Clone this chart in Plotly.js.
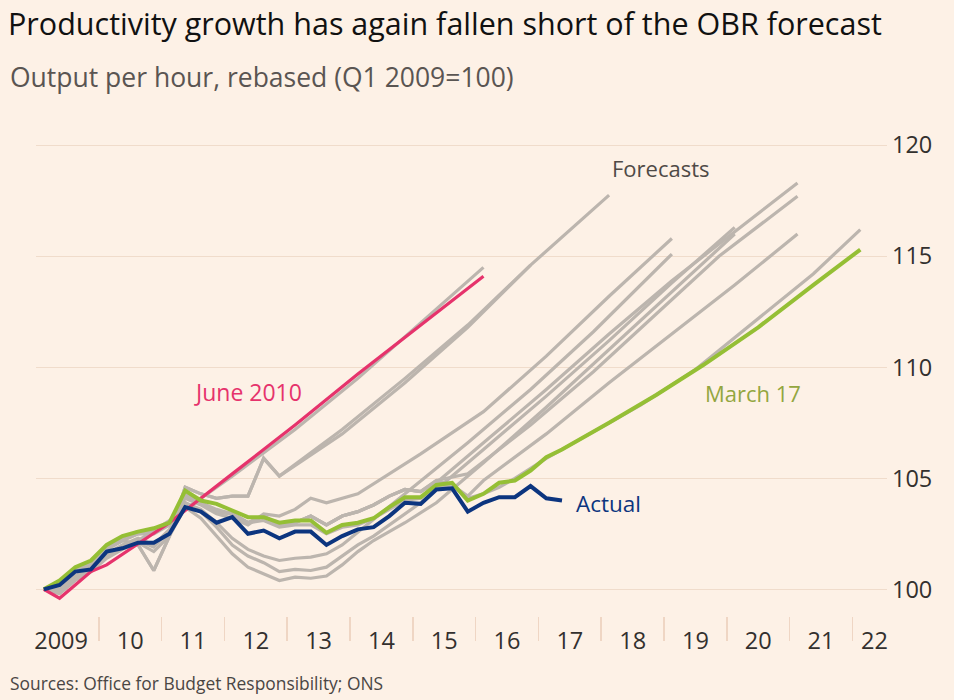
<!DOCTYPE html>
<html>
<head>
<meta charset="utf-8">
<script src="https://cdn.plot.ly/plotly-3.0.1.min.js"></script>
<style>
  html, body { margin: 0; padding: 0; background: #fdf1e6; }
  #chart { width: 954px; height: 700px; }
</style>
</head>
<body>
<div id="chart"></div>
<script>
// quarterly history vintages start at Q1 2009 (plotted mid-quarter)
const firstQuarter = 2009.125;

// ONS outturn, Q1 2009 .. Q2 2017
const actual = [100.0, 100.2, 100.8, 100.9, 101.7, 101.85, 102.1, 102.1,
  102.5, 103.7, 103.5, 103.0, 103.25, 102.5, 102.65, 102.3,
  102.6, 102.6, 102.0, 102.4, 102.7, 102.8, 103.3, 103.9,
  103.85, 104.5, 104.55, 103.5, 103.9, 104.15, 104.15, 104.65,
  104.1, 104.0];

// history as seen by each forecast
const histMar17 = [100.0, 100.4, 101.0, 101.3, 102.0, 102.4, 102.6, 102.75,
  103.0, 104.45, 104.0, 103.85, 103.55, 103.25, 103.25, 103.0,
  103.1, 103.1, 102.55, 102.9, 103.0, 103.2, 103.7, 104.15,
  104.15, 104.7, 104.8, 104.0, 104.3, 104.8, 104.9, 105.35];
const histNov16 = [100.0, 100.3, 100.9, 101.2, 101.9, 102.2, 102.5, 102.6,
  102.9, 104.3, 103.9, 103.6, 103.4, 103.0, 103.1, 102.8,
  102.9, 102.9, 102.5, 102.8, 102.9, 103.2, 103.6, 104.0,
  104.1, 104.6, 104.7, 104.1, 104.3, 104.6];
const histMid = [100.0, 100.2, 100.9, 101.2, 101.9, 102.3, 102.6, 102.6,
  103.0, 104.2, 103.9, 103.5, 103.4, 103.0, 103.3, 102.9,
  103.0, 103.3, 102.9, 103.3, 103.5, 103.8, 104.2, 104.5,
  104.4, 104.9, 104.7, 104.2];
const histLow = [100.0, 99.9, 100.5, 100.9, 101.5, 101.9, 102.2, 101.9,
  102.6, 103.9, 103.5, 102.8, 102.0, 101.5, 101.2, 100.8,
  100.9, 100.85, 101.0, 101.5, 102.0, 102.4, 102.9, 103.3];
const histLowest = [100.0, 99.8, 100.4, 100.8, 101.4, 101.8, 102.1, 101.7,
  102.4, 103.7, 103.2, 102.4, 101.6, 101.0, 100.7, 100.4,
  100.55, 100.5, 100.6, 101.1, 101.7, 102.2, 102.6, 103.0];
const histDec13 = [100.0, 100.0, 100.6, 101.0, 101.6, 102.0, 102.3, 102.0,
  102.7, 103.9, 103.6, 103.0, 102.3, 101.8, 101.5, 101.3,
  101.4, 101.45, 101.6];
const histMar14 = [100.0, 100.1, 100.8, 101.1, 101.8, 102.2, 102.5, 102.5,
  102.9, 104.1, 103.8, 103.4, 103.2, 102.9, 103.4, 103.3,
  103.6, 104.1, 103.9, 104.1];
const histOlympic = [100.0, 100.1, 100.8, 101.2, 101.8, 102.2, 102.0, 100.85,
  102.4, 104.6, 104.3, 104.1, 104.2, 104.2, 105.9, 105.1];
const histJun10 = [100.0, 99.6, 100.2, 100.8, 101.1];
const histNov10 = [100.0, 100.0, 100.6, 100.9, 101.5, 101.9, 102.2];

// forecast paths: [year, value]
const fcJun10 = [[2011.125, 103.0], [2012.125, 105.2], [2013.125, 107.4], [2014.125, 109.7], [2015.125, 111.9], [2016.125, 114.1]];
const fcNov10 = [[2011.125, 103.1], [2012.125, 105.1], [2013.125, 107.2], [2014.125, 109.5], [2015.125, 112.0], [2016.125, 114.5]];
const fcMar12 = [[2013.875, 107.2], [2014.875, 109.5], [2015.875, 111.9], [2016.875, 114.6]];
const fcDec12 = [[2013.875, 107.0], [2014.875, 109.3], [2015.875, 111.8], [2016.875, 114.6], [2018.125, 117.75]];
const fcDec13 = [[2013.875, 102.0], [2014.875, 104.3], [2015.875, 106.6], [2016.875, 109.0], [2017.875, 111.6], [2019.125, 115.1]];
const fcMar14 = [[2014.125, 104.3], [2015.125, 106.1], [2016.125, 108.0], [2017.125, 110.5], [2018.125, 113.2], [2019.125, 115.8]];
const fcDec14 = [[2015.125, 103.9], [2016.125, 106.3], [2017.125, 108.7], [2018.125, 111.2], [2019.125, 113.8], [2020.125, 116.3]];
const fcMar15 = [[2015.375, 103.9], [2016.125, 105.7], [2017.125, 108.2], [2018.125, 110.8], [2019.125, 113.4], [2020.125, 116.0]];
const fcJul15 = [[2015.375, 104.8], [2016.125, 106.6], [2017.125, 109.0], [2018.125, 111.5], [2019.125, 113.9], [2020.125, 116.1], [2021.125, 118.3]];
const fcNov15 = [[2015.875, 105.2], [2016.875, 107.4], [2017.875, 109.8], [2018.875, 112.4], [2019.875, 115.0], [2021.125, 117.7]];
const fcMar16 = [[2016.125, 104.9], [2017.125, 107.0], [2018.125, 109.3], [2019.125, 111.5], [2020.125, 113.7], [2021.125, 116.0]];
const fcNov16 = [[2016.625, 105.0], [2017.125, 105.9], [2017.625, 106.7], [2018.625, 108.3], [2019.5, 109.9], [2020.5, 112.2], [2021.375, 114.2], [2022.125, 116.2]];
const fcMar17 = [[2017.125, 105.95], [2017.375, 106.3], [2018.125, 107.5], [2018.875, 108.75], [2019.625, 110.1], [2020.5, 111.8], [2021.375, 113.7], [2022.125, 115.3]];

// axis labels
const yearLabels = ['2009', '10', '11', '12', '13', '14', '15', '16', '17', '18', '19', '20', '21', '22'];
const yearLabelPos = [2009.4, 2010.5, 2011.5, 2012.5, 2013.5, 2014.5, 2015.5, 2016.5, 2017.5, 2018.5, 2019.5, 2020.5, 2021.5, 2022.35];
const yearBreaks = [2010, 2011, 2012, 2013, 2014, 2015, 2016, 2017, 2018, 2019, 2020, 2021, 2022];
const yTicks = [100, 105, 110, 115, 120];

const grey = '#bcb5ae';
const pink = '#e6336c';
const green = '#95bf35';
const navy = '#0c357f';
const bg = '#fdf1e6';
const font = 'Open Sans, sans-serif';

function series(hist, n, fc) {
  let xs = [], ys = [];
  for (let i = 0; i < n; i++) {
    xs.push(firstQuarter + i * 0.25);
    ys.push(hist[i]);
  }
  (fc || []).forEach(p => { xs.push(p[0]); ys.push(p[1]); });
  return { x: xs, y: ys };
}

function line(s, color, width) {
  return {
    x: s.x, y: s.y, type: 'scatter', mode: 'lines',
    line: { color: color, width: width, shape: 'linear' },
    hoverinfo: 'skip', showlegend: false
  };
}

let traces = [
  line(series(histNov10, 7, fcNov10), grey, 3.2),
  line(series(histOlympic, 16, fcMar12), grey, 3.2),
  line(series(histOlympic, 16, fcDec12), grey, 3.2),
  line(series(histDec13, 19, fcDec13), grey, 3.2),
  line(series(histMar14, 20, fcMar14), grey, 3.2),
  line(series(histLow, 23, fcDec14), grey, 3.2),
  line(series(histLowest, 24, fcMar15), grey, 3.2),
  line(series(histMid, 25, fcJul15), grey, 3.2),
  line(series(histMid, 26, fcNov15), grey, 3.2),
  line(series(histMid, 28, fcMar16), grey, 3.2),
  line(series(histNov16, 30, fcNov16), grey, 3.2),
  line(series(histJun10, 5, fcJun10), pink, 3.2),
  line(series(histMar17, 32, fcMar17), green, 4),
  line(series(actual, actual.length), navy, 4)
];

let layout = {
  width: 954, height: 700,
  paper_bgcolor: bg, plot_bgcolor: bg,
  margin: { l: 36, r: 67, t: 123, b: 84 },
  font: { family: font, color: '#33302e' },
  title: {
    text: 'Productivity growth has again fallen short of the OBR forecast',
    x: 8 / 954, xanchor: 'left', xref: 'container',
    y: 1 - 24 / 700, yanchor: 'middle', yref: 'container',
    font: { family: font, size: 30.5, color: '#111111' }
  },
  xaxis: {
    range: [2009, 2022.55],
    tickmode: 'array', tickvals: yearLabelPos, ticktext: yearLabels,
    ticks: '', showgrid: false, zeroline: false, showline: false,
    ticklabelstandoff: 8,
    tickfont: { family: font, size: 23.5, color: '#33302e' },
    minor: { tickmode: 'array', tickvals: yearBreaks, ticks: 'outside', ticklen: 24, tickwidth: 1.5, tickcolor: '#efd6c4', showgrid: false }
  },
  yaxis: {
    side: 'right', range: [98.8, 121],
    tickmode: 'array', tickvals: yTicks,
    ticks: '', showgrid: true, gridcolor: '#f0dccb', gridwidth: 1.3,
    zeroline: false, showline: false, ticklabelstandoff: 4,
    tickfont: { family: font, size: 23.5, color: '#33302e' }
  },
  annotations: [
    { text: 'Output per hour, rebased (Q1 2009=100)', xref: 'paper', yref: 'paper',
      x: (8 - 36) / 851, y: (616 - 77) / 493, xanchor: 'left', yanchor: 'middle', showarrow: false,
      font: { family: font, size: 26.5, color: '#5a5552' } },
    { text: 'Sources: Office for Budget Responsibility; ONS', xref: 'paper', yref: 'paper',
      x: (8 - 36) / 851, y: (616 - 683) / 493, xanchor: 'left', yanchor: 'middle', showarrow: false,
      font: { family: font, size: 17.4, color: '#4a4644' } },
    { text: 'Forecasts', x: 2018.95, y: 118.96, showarrow: false,
      font: { family: font, size: 22, color: '#4f4a46' } },
    { text: 'June 2010', x: 2012.38, y: 108.87, showarrow: false,
      font: { family: font, size: 23, color: pink } },
    { text: 'March 17', x: 2020.42, y: 108.83, showarrow: false,
      font: { family: font, size: 22, color: '#93a63f' } },
    { text: 'Actual', x: 2018.11, y: 103.87, showarrow: false,
      font: { family: font, size: 22.5, color: navy } }
  ]
};

Plotly.newPlot('chart', traces, layout, { displayModeBar: false, staticPlot: true });
</script>
</body>
</html>
